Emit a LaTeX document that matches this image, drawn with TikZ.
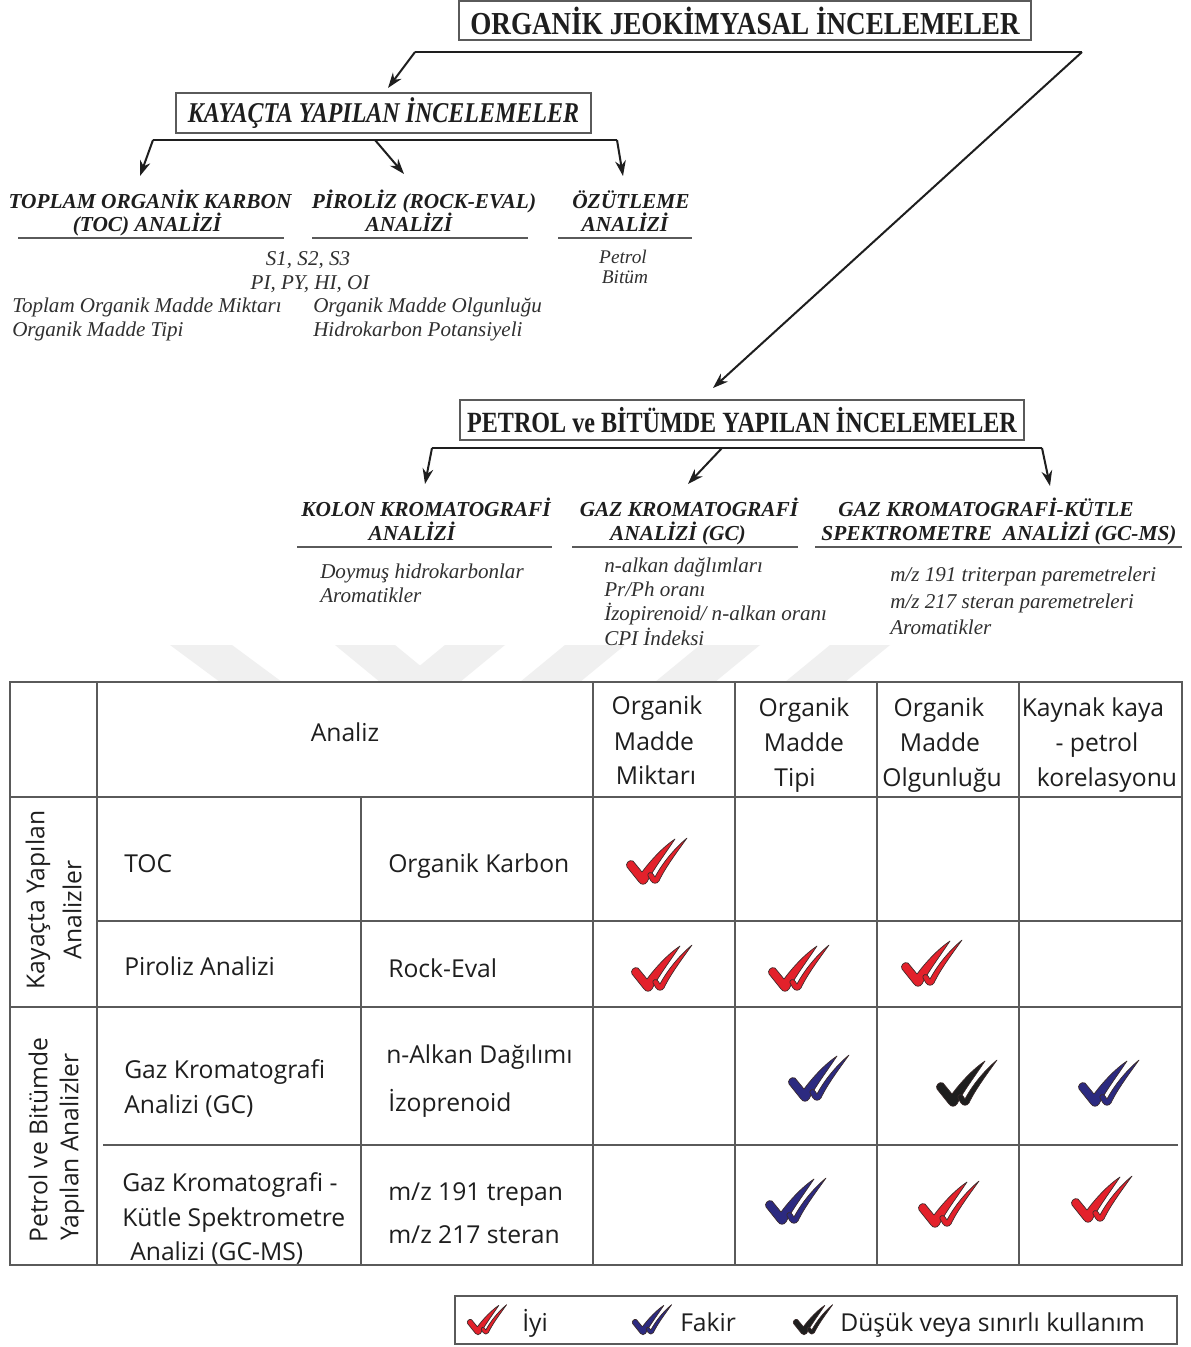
\documentclass[tikz,border=0pt]{standalone}
\usepackage{fontspec}
\setmainfont{Liberation Serif}
\newfontfamily\tblfont{Open Sans}
\usetikzlibrary{arrows.meta}
\definecolor{ink}{HTML}{1E1E1E}
\definecolor{soft}{HTML}{303030}
\definecolor{rule}{HTML}{5A5A5A}
\definecolor{chkred}{HTML}{E3212B}
\definecolor{chkblue}{HTML}{2C2A80}
\definecolor{chkblack}{HTML}{1E1E1E}
\definecolor{chkedge}{HTML}{3A2A2A}
\definecolor{wmark}{HTML}{F0F0F0}

% double tick mark, origin at the lower vertex of the first tick
\tikzset{pics/dcheck/.style={code={
  \filldraw[fill=#1, draw=chkedge, line width=0.5pt, line join=round]
    (32,-41) .. controls (22,-26) and (10,-10) .. (4,2)
    .. controls (2,5) and (-2,5) .. (-4,2) -- (-16,-13)
    .. controls (-18,-16) and (-14,-21) .. (-10,-19) -- (-1,-8)
    .. controls (8,-20) and (20,-33) .. (32,-41) -- cycle;
  \filldraw[fill=#1, draw=chkedge, line width=0.5pt, line join=round]
    (44,-42) .. controls (34,-28) and (22,-12) .. (16,1)
    .. controls (14,4) and (10,4) .. (8,1) -- (5,-4)
    .. controls (4,-7) and (8,-9) .. (10,-6) -- (12,-3)
    .. controls (20,-18) and (32,-32) .. (44,-42) -- cycle;
}}}

\begin{document}
\begin{tikzpicture}[x=0.75pt,y=-0.75pt,
  hbox/.style={draw=rule, line width=0.9pt, inner sep=0pt, text=ink},
  bar/.style={line width=2.2pt, draw=ink},
  arr/.style={line width=1.5pt, draw=ink, -{Stealth[length=11.5pt,width=8pt]}},
  head/.style={text=ink, inner sep=0pt, anchor=base, font=\bfseries\itshape\fontsize{16}{18}\selectfont},
  body/.style={text=soft, inner sep=0pt, anchor=base west, font=\itshape\fontsize{15.8}{18}\selectfont},
  bodyc/.style={body, anchor=base},
  uline/.style={draw=rule, line width=1.4pt},
  grid/.style={draw=rule, line width=1.1pt},
  cell/.style={text=ink, inner sep=0pt, anchor=base west, font=\tblfont\fontsize{18.5}{22}\selectfont},
  cellc/.style={cell, anchor=base},
]
\useasboundingbox (0,0) rectangle (1191,1347);
\fill[white] (0,0) rectangle (1191,1347);

% faint background bands between the diagram and the table
\begin{scope}[fill=wmark]
  \fill (170,645) -- (232,645) -- (282,682) -- (220,682) -- cycle;
  \fill (335,645) -- (395,645) -- (440,682) -- (380,682) -- cycle;
  \fill (445,645) -- (505,645) -- (460,682) -- (400,682) -- cycle;
  \fill (565,645) -- (625,645) -- (580,682) -- (520,682) -- cycle;
  \fill (700,645) -- (760,645) -- (715,682) -- (655,682) -- cycle;
  \fill (830,645) -- (890,645) -- (845,682) -- (785,682) -- cycle;
\end{scope}

% ---------- top boxes ----------
\node[hbox, minimum width=429pt, minimum height=29.25pt] (title) at (745,20.5)
  {\fontsize{24}{28}\selectfont\bfseries\scalebox{0.848}[1]{ORGANİK JEOKİMYASAL İNCELEMELER}};
\node[hbox, minimum width=311.25pt, minimum height=30pt] (kayac) at (383.5,113)
  {\fontsize{21.5}{24}\selectfont\bfseries\itshape\scalebox{0.837}[1]{KAYAÇTA YAPILAN İNCELEMELER}};
\node[hbox, minimum width=423pt, minimum height=30pt] (petrol) at (742,420)
  {\fontsize{22}{26}\selectfont\bfseries\scalebox{0.822}[1]{PETROL ve BİTÜMDE YAPILAN İNCELEMELER}};

% title fork
\coordinate (tL) at (415,52);
\coordinate (tR) at (1082,52);
\draw[bar] (tL) -- (tR);
\draw[arr] (tL) -- (388,88) coordinate (kayacIn);
\draw[arr] (tR) -- (713,388) coordinate (petrolIn);

% rock fork
\coordinate (kL) at (153,140);
\coordinate (kM) at (375,140);
\coordinate (kR) at (617,140);
\draw[bar] (kL) -- (kR);
\draw[arr] (kL) -- (140,176);
\draw[arr] (kM) -- (404,174);
\draw[arr] (kR) -- (623,176);

% oil fork
\coordinate (pL) at (432,448);
\coordinate (pM) at (722,448);
\coordinate (pR) at (1042,448);
\draw[bar] (pL) -- (pR);
\draw[arr] (pL) -- (425,484);
\draw[arr] (pM) -- (688,484);
\draw[arr] (pR) -- (1050,486);

% ---------- rock analyses ----------
\node[head] (toc1) at (150,208) {TOPLAM ORGANİK KARBON};
\node[head] (toc2) at (147,231) {(TOC) ANALİZİ};
\node[head] (pir1) at (424,208) {PİROLİZ (ROCK-EVAL)};
\node[head] (pir2) at (409,231) {ANALİZİ};
\node[head] (ozu1) at (631,208) {ÖZÜTLEME};
\node[head] (ozu2) at (625,231) {ANALİZİ};
\draw[uline] (18,238) -- (284,238);
\draw[uline] (312,238) -- (528,238);
\draw[uline] (558,238) -- (692,238);

\node[bodyc] (s123) at (308,265) {S1, S2, S3};
\node[bodyc] (pipy) at (310,289) {PI, PY, HI, OI};
\node[body] (tom) at (12,312) {Toplam Organik Madde Miktarı};
\node[body] (omt) at (12,336) {Organik Madde Tipi};
\node[body] (omo) at (313,312) {Organik Madde Olgunluğu};
\node[body] (hkp) at (313,336) {Hidrokarbon Potansiyeli};
\node[bodyc, font=\itshape\fontsize{14.5}{17}\selectfont] (pet) at (623,263) {Petrol};
\node[bodyc, font=\itshape\fontsize{14.5}{17}\selectfont] (bit) at (625,283) {Bitüm};

% ---------- oil and bitumen analyses ----------
\node[head] (kol1) at (426,516) {KOLON KROMATOGRAFİ};
\node[head] (kol2) at (412,540) {ANALİZİ};
\node[head] (gc1) at (689,516) {GAZ KROMATOGRAFİ};
\node[head] (gc2) at (678,540) {ANALİZİ (GC)};
\node[head] (ms1) at (986,516) {GAZ KROMATOGRAFİ-KÜTLE};
\node[head] (ms2) at (999,540) {SPEKTROMETRE\ \ ANALİZİ (GC-MS)};
\draw[uline] (297,547) -- (552,547);
\draw[uline] (572,547) -- (798,547);
\draw[uline] (815,547) -- (1182,547);

\node[body] (dh) at (320,578) {Doymuş hidrokarbonlar};
\node[body] (ar1) at (320,602) {Aromatikler};
\node[body] (nad) at (604,572) {n-alkan dağlımları};
\node[body] (prph) at (604,596) {Pr/Ph oranı};
\node[body] (izo) at (604,620) {İzopirenoid/ n-alkan oranı};
\node[body] (cpi) at (604,645) {CPI İndeksi};
\node[body] (mz191) at (890,581) {m/z 191 triterpan paremetreleri};
\node[body] (mz217) at (890,608) {m/z 217 steran paremetreleri};
\node[body] (ar2) at (890,634) {Aromatikler};

% ---------- table ----------
\fill[white] (10,682) rectangle (1182,1265);
\draw[grid] (10,682) rectangle (1182,1265);
\draw[grid] (97,682) -- (97,1265);
\draw[grid] (361,797) -- (361,1265);
\foreach \cx in {593,735,877,1019} \draw[grid] (\cx,682) -- (\cx,1265);
\draw[grid] (10,797) -- (1182,797);
\draw[grid] (97,921) -- (1182,921);
\draw[grid] (10,1007) -- (1182,1007);
\draw[grid] (103,1145) -- (1178,1145);

\node[cell, anchor=center] (analiz) at (345,732) {Analiz};
\node[cellc] (c1a) at (657,714) {Organik};
\node[cellc] (c1b) at (654,750) {Madde};
\node[cellc] (c1c) at (656,784) {Miktarı};
\node[cellc] (c2a) at (804,716) {Organik};
\node[cellc] (c2b) at (804,751) {Madde};
\node[cellc] (c2c) at (795,786) {Tipi};
\node[cellc] (c3a) at (939,716) {Organik};
\node[cellc] (c3b) at (940,751) {Madde};
\node[cellc] (c3c) at (942,786) {Olgunluğu};
\node[cellc] (c4a) at (1093,716) {Kaynak kaya};
\node[cellc] (c4b) at (1097,751) {- petrol};
\node[cellc] (c4c) at (1107,786) {korelasyonu};

\node[cell, anchor=center, rotate=90] (g1a) at (38,900) {Kayaçta Yapılan};
\node[cell, anchor=center, rotate=90] (g1b) at (72,910) {Analizler};
\node[cell, anchor=center, rotate=90] (g2a) at (38,1140) {Petrol ve Bitümde};
\node[cell, anchor=center, rotate=90] (g2b) at (72,1147) {Yapılan Analizler};

\node[cell] (r1a) at (124,872) {TOC};
\node[cell] (r1b) at (388,872) {Organik Karbon};
\node[cell] (r2a) at (124,975) {Piroliz Analizi};
\node[cell] (r2b) at (388,977) {Rock-Eval};
\node[cell] (r3a) at (124,1078) {Gaz Kromatografi};
\node[cell] (r3b) at (124,1113) {Analizi (GC)};
\node[cell] (r3c) at (386,1063) {n-Alkan Dağılımı};
\node[cell] (r3d) at (388,1111) {İzoprenoid};
\node[cell] (r4a) at (122,1191) {Gaz Kromatografi -};
\node[cell] (r4b) at (122,1226) {Kütle Spektrometre};
\node[cell] (r4c) at (130,1260) {Analizi (GC-MS)};
\node[cell] (r4d) at (388,1200) {m/z 191 trepan};
\node[cell] (r4e) at (388,1243) {m/z 217 steran};

% ticks
\pic at (643,880) {dcheck=chkred};
\pic at (648,987) {dcheck=chkred};
\pic at (785,987) {dcheck=chkred};
\pic at (918,982) {dcheck=chkred};
\pic at (805,1097) {dcheck=chkblue};
\pic at (953,1102) {dcheck=chkblack};
\pic at (1095,1102) {dcheck=chkblue};
\pic at (782,1220) {dcheck=chkblue};
\pic at (935,1223) {dcheck=chkred};
\pic at (1088,1218) {dcheck=chkred};

% ---------- legend ----------
\node[draw=rule, line width=1.1pt, minimum width=541.5pt, minimum height=36pt, inner sep=0pt] (legend) at (816,1320) {};
\pic[scale=0.65] at (478,1332) {dcheck=chkred};
\node[cell] (lg1) at (522,1331) {İyi};
\pic[scale=0.65] at (643,1332) {dcheck=chkblue};
\node[cell] (lg2) at (680,1331) {Fakir};
\pic[scale=0.65] at (804,1332) {dcheck=chkblack};
\node[cell] (lg3) at (840,1331) {Düşük veya sınırlı kullanım};
\end{tikzpicture}
\end{document}
